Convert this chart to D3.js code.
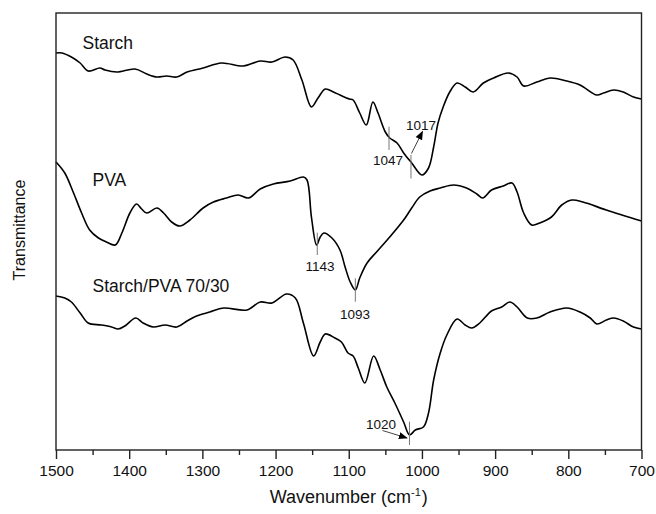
<!DOCTYPE html>
<html>
<head>
<meta charset="utf-8">
<script src="https://cdn.jsdelivr.net/npm/d3@7"></script>
<style>
  html, body { margin: 0; padding: 0; background: #fff; }
  svg { display: block; }
  text { font-family: "Liberation Sans", Arial, sans-serif; fill: #111; }
</style>
</head>
<body>
<svg id="chart" width="656" height="514"></svg>
<script>
// ---- Data (wavenumber in cm^-1, transmittance in arbitrary offset units) ----
const starchWn = [1500,1492,1479,1467,1456,1440,1433,1417,1392,1376,1362,1349,1335,1321,1299,1274,1244,1221,1205,1187,1176,1164,1151,1142,1132,1121,1112,1099,1094,1085,1076,1067,1060,1050,1044,1034,1025,1014,1000,991,984,978,971,962,952,941,930,916,902,882,870,861,843,825,802,784,761,752,738,725,711,700];
const starchT  = [397,397,393,387,379,382,380,378,381,376,373,374,373,378,382,387,384,389,388,393,390,370,343,352,361,358,355,351,350,337,325,348,337,318,312,307,297,287,275,282,303,327,343,358,367,363,358,367,372,377,373,364,368,372,369,365,355,357,360,358,353,351];

const pvaWn = [1500,1488,1476,1465,1454,1442,1431,1419,1410,1399,1390,1383,1376,1362,1353,1342,1331,1317,1299,1285,1267,1251,1237,1221,1203,1180,1162,1157,1151,1144,1139,1134,1123,1112,1105,1098,1091,1085,1075,1062,1044,1025,1014,1003,989,975,957,939,925,917,905,889,877,870,861,850,839,823,809,795,780,748,700];
const pvaT  = [288,277,257,237,220,212,208,205,217,237,246,241,237,242,237,228,224,230,242,248,252,255,252,261,266,269,273,270,233,205,213,217,212,200,183,168,160,172,187,198,213,230,242,253,259,262,265,262,256,252,260,264,267,258,237,225,227,233,245,250,248,240,229];

const blendWn = [1500,1488,1479,1467,1456,1438,1424,1415,1406,1391,1381,1367,1351,1335,1321,1308,1290,1271,1239,1221,1205,1185,1173,1162,1148,1139,1132,1119,1110,1101,1094,1087,1078,1066,1057,1048,1037,1025,1017,1009,998,991,984,975,966,952,941,932,921,905,891,880,870,856,843,825,802,784,770,761,748,738,725,711,700];
const blendT  = [154,152,148,137,127,125,123,121,124,132,127,123,125,123,129,134,138,142,140,148,147,156,152,127,94,108,116,112,108,97,94,82,67,94,80,63,47,28,15,20,23,37,70,97,115,131,125,122,127,139,143,148,143,132,132,138,142,138,132,126,130,132,129,123,121];

const seriesNames = ["Starch", "PVA", "Starch/PVA 70/30"];
const majorTicks = [1500,1400,1300,1200,1100,1000,900,800,700];
const minorTicks = [1450,1350,1250,1150,1050,950,850,750];
const xTitle = "Wavenumber (cm";
const xTitleSup = "-1";
const yTitle = "Transmittance";

// peak annotations: [series index, label, wavenumber]
const peakLabels = ["1047", "1017", "1143", "1093", "1020"];
const peakWn = [1045, 1015, 1143, 1091, 1017];

// ---- Layout ----
const svg = d3.select("#chart");
const L = 56, R = 641.5, T = 13, B = 450;
const x = d3.scaleLinear().domain([1500, 700]).range([L, R]);
const y = d3.scaleLinear().domain([0, 437]).range([B, T]);

const line = d3.line()
  .x(d => x(d[0])).y(d => y(d[1]))
  .curve(d3.curveCatmullRom.alpha(0.5));

const defs = svg.append("defs");
defs.append("marker").attr("id", "arr")
  .attr("viewBox", "0 0 10 10").attr("refX", 9).attr("refY", 5)
  .attr("markerWidth", 9).attr("markerHeight", 9).attr("orient", "auto")
  .attr("markerUnits", "userSpaceOnUse")
  .append("path").attr("d", "M0,1 L10,5 L0,9 Z").attr("fill", "#000");

const allSeries = [
  d3.zip(starchWn, starchT),
  d3.zip(pvaWn, pvaT),
  d3.zip(blendWn, blendT)
];

svg.append("g").selectAll("path").data(allSeries).join("path")
  .attr("d", line).attr("fill", "none").attr("stroke", "#000")
  .attr("stroke-width", 1.6).attr("stroke-linejoin", "round");

// Frame
svg.append("rect").attr("x", L).attr("y", T).attr("width", R - L).attr("height", B - T)
  .attr("fill", "none").attr("stroke", "#222").attr("stroke-width", 1.4);

// Axes
const gx = svg.append("g").attr("transform", `translate(0,${B})`)
  .call(d3.axisBottom(x).tickValues(majorTicks).tickSize(9).tickPadding(6).tickFormat(d3.format("d")));
gx.select(".domain").remove();
gx.selectAll(".tick line").attr("stroke", "#222").attr("stroke-width", 1.4);
gx.selectAll(".tick text").style("font-family", '"Liberation Sans", Arial, sans-serif')
  .style("font-size", "15.5px").attr("fill", "#111");

const gm = svg.append("g").attr("transform", `translate(0,${B})`)
  .call(d3.axisBottom(x).tickValues(minorTicks).tickSize(5).tickFormat(""));
gm.select(".domain").remove();
gm.selectAll(".tick line").attr("stroke", "#222").attr("stroke-width", 1.4);

// Axis titles
const xt = svg.append("text").attr("x", (L + R) / 2).attr("y", 503)
  .attr("text-anchor", "middle").style("font-size", "18px");
xt.append("tspan").text(xTitle);
xt.append("tspan").text(xTitleSup).attr("dy", -7).style("font-size", "11px");
xt.append("tspan").text(")").attr("dy", 7).attr("dx", 1);

svg.append("text").attr("transform", `translate(25,230) rotate(-90)`)
  .attr("text-anchor", "middle").style("font-size", "16px").text(yTitle);

// Series labels
const labelPos = [[82.5, 49], [92.5, 186], [92.5, 292]];
svg.append("g").selectAll("text").data(seriesNames).join("text")
  .attr("x", (d, i) => labelPos[i][0]).attr("y", (d, i) => labelPos[i][1])
  .style("font-size", "17.5px").text(d => d);

// Peak marker lines (gray)
const markerSpan = [[126.7, 150], [155, 178.5], [232.7, 255], [278.3, 301.7], [421.7, 445]];
svg.append("g").selectAll("line").data(peakWn).join("line")
  .attr("x1", d => x(d)).attr("x2", d => x(d))
  .attr("y1", (d, i) => markerSpan[i][0]).attr("y2", (d, i) => markerSpan[i][1])
  .attr("stroke", "#777").attr("stroke-width", 1);

// Peak labels
const peakTextPos = [[388, 165], [421, 129.5], [320, 270.5], [355, 319], [381, 428.5]];
svg.append("g").selectAll("text").data(peakLabels).join("text")
  .attr("x", (d, i) => peakTextPos[i][0]).attr("y", (d, i) => peakTextPos[i][1])
  .attr("text-anchor", "middle").style("font-size", "13.5px").text(d => d);

// Arrows
svg.append("line").attr("x1", x(peakWn[1]) + 0.5).attr("y1", 153.5).attr("x2", 422.5).attr("y2", 131.5)
  .attr("stroke", "#444").attr("stroke-width", 1).attr("marker-end", "url(#arr)");
svg.append("line").attr("x1", 382.5).attr("y1", 430.5).attr("x2", x(peakWn[4]) - 2.5).attr("y2", 438)
  .attr("stroke", "#444").attr("stroke-width", 1).attr("marker-end", "url(#arr)");
</script>
</body>
</html>
